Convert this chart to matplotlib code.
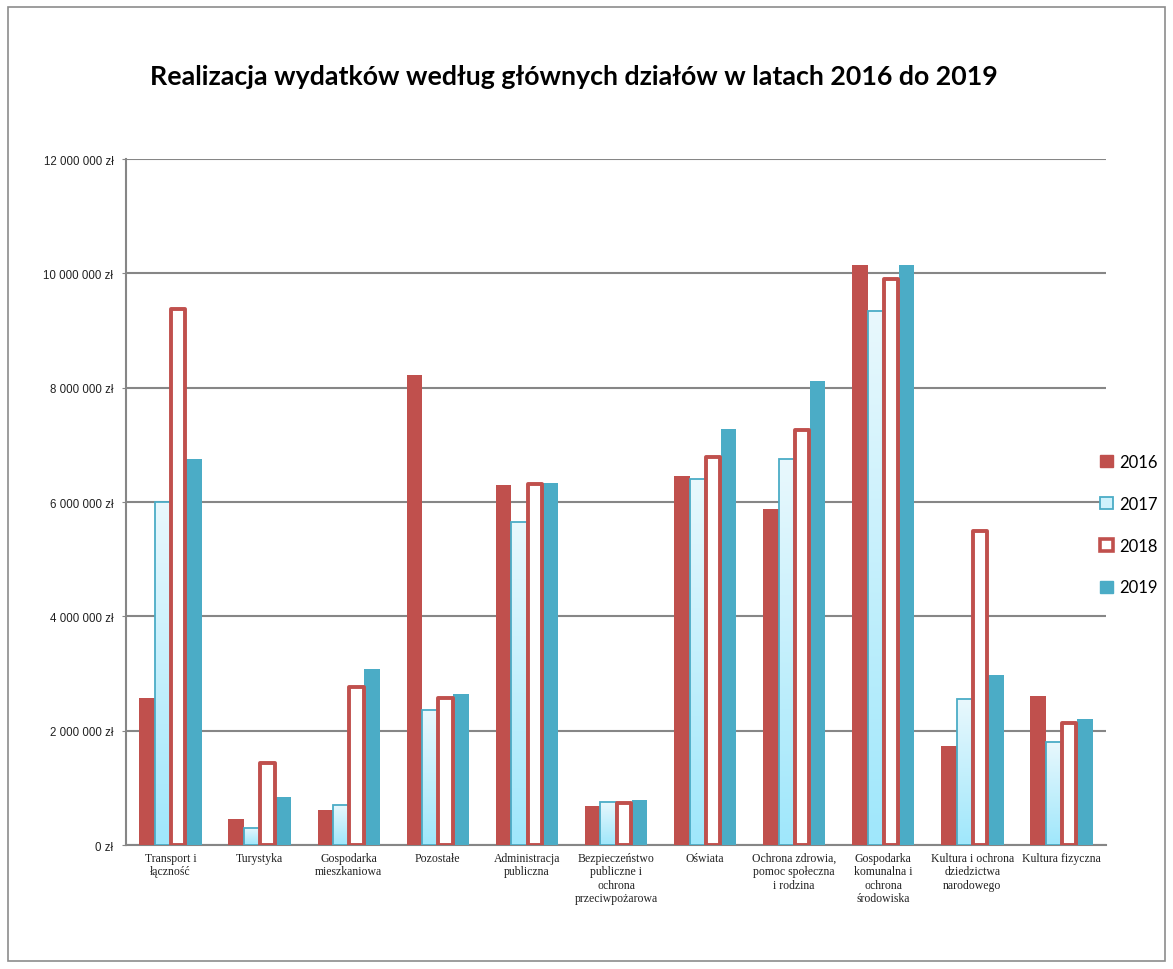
import numpy as np
import matplotlib
matplotlib.use("Agg")
import matplotlib.pyplot as plt
from matplotlib.patches import Patch, Rectangle
from matplotlib.colors import LinearSegmentedColormap
from matplotlib.ticker import FixedLocator, FuncFormatter

# data (zł)
categories = [
    "Transport i\nłączność",
    "Turystyka",
    "Gospodarka\nmieszkaniowa",
    "Pozostałe",
    "Administracja\npubliczna",
    "Bezpieczeństwo\npubliczne i\nochrona\nprzeciwpożarowa",
    "Oświata",
    "Ochrona zdrowia,\npomoc społeczna\ni rodzina",
    "Gospodarka\nkomunalna i\nochrona\nśrodowiska",
    "Kultura i ochrona\ndziedzictwa\nnarodowego",
    "Kultura fizyczna",
]
years = ["2016", "2017", "2018", "2019"]
v2016 = [2570000, 450000, 620000, 8230000, 6290000, 690000, 6450000, 5880000, 10140000, 1730000, 2600000]
v2017 = [6000000, 300000, 700000, 2370000, 5650000, 760000, 6400000, 6750000, 9350000, 2550000, 1810000]
v2018 = [9370000, 1440000, 2770000, 2570000, 6310000, 730000, 6790000, 7260000, 9900000, 5500000, 2130000]
v2019 = [6750000, 840000, 3080000, 2650000, 6340000, 790000, 7270000, 8120000, 10150000, 2970000, 2210000]
yticks = [0, 2000000, 4000000, 6000000, 8000000, 10000000, 12000000]

RED = "#C0504D"
BLUE = "#4BACC6"

fig = plt.figure(figsize=(11.73, 9.70), dpi=100)
ax = fig.add_axes([0.1074, 0.1278, 0.8355, 0.7072])

x = np.arange(len(categories))
w = 0.175

ax.bar(x - 1.5 * w, v2016, w, color=RED, zorder=3)

# 2017: light gradient bars with thin blue outline
grad_cmap = LinearSegmentedColormap.from_list("cy", ["#9FE7FB", "#E9F8FD"])
grad = np.linspace(0, 1, 256).reshape(-1, 1)
for xi, v in zip(x, v2017):
    ax.imshow(grad, extent=[xi - w, xi, 0, v], origin="lower",
              aspect="auto", cmap=grad_cmap, zorder=3)
ax.bar(x - 0.5 * w, v2017, w, facecolor="none",
       edgecolor=BLUE, linewidth=1.3, zorder=4)

ax.bar(x + 0.5 * w, v2018, w * 0.92, facecolor="white", edgecolor=RED,
       linewidth=2.8, joinstyle="round", zorder=4)
ax.bar(x + 1.5 * w, v2019, w, color=BLUE, zorder=3)

ax.set_xlim(-0.5, len(categories) - 0.5)
ax.set_ylim(0, 12000000)

ax.yaxis.set_major_locator(FixedLocator(yticks))
ax.yaxis.set_major_formatter(FuncFormatter(lambda v, p: f"{int(v):,} zł".replace(",", " ")))
ax.grid(axis="y", color="#868686", linewidth=1.5)
ax.set_axisbelow(True)

ax.set_xticks(x)
ax.set_xticklabels(categories, family="Liberation Serif", fontsize=8.5,
                   linespacing=1.15, color="#222222")
ax.tick_params(axis="x", length=0, pad=5)
ax.tick_params(axis="y", length=3, color="#868686", labelsize=8.3, pad=6)
for lab in ax.get_yticklabels():
    lab.set_family("Liberation Sans")
    lab.set_color("#222222")

for s in ["top", "right"]:
    ax.spines[s].set_visible(False)
for s in ["left", "bottom"]:
    ax.spines[s].set_color("#868686")
    ax.spines[s].set_linewidth(1.5)

fig.text(0.489, 0.9206, "Realizacja wydatków według głównych działów w latach 2016 do 2019",
         ha="center", va="center", family="Lato", fontweight="bold", fontsize=19.3)

handles = [
    Patch(facecolor=RED, edgecolor=RED),
    Patch(facecolor="#CFF2FC", edgecolor=BLUE, linewidth=1.3),
    Patch(facecolor="white", edgecolor=RED, linewidth=2.6),
    Patch(facecolor=BLUE, edgecolor=BLUE),
]
fig.legend(handles, years, loc="center left", bbox_to_anchor=(0.925, 0.458),
           frameon=False, prop={"family": "Lato", "size": 12},
           handlelength=0.75, handleheight=0.75, handletextpad=0.4, labelspacing=1.55)

# outer chart frame
fig.patches.append(Rectangle((0.007, 0.008), 0.986, 0.984, transform=fig.transFigure,
                             fill=False, edgecolor="#8C8C8C", linewidth=1.2))

fig.savefig("out.png", dpi=100)
